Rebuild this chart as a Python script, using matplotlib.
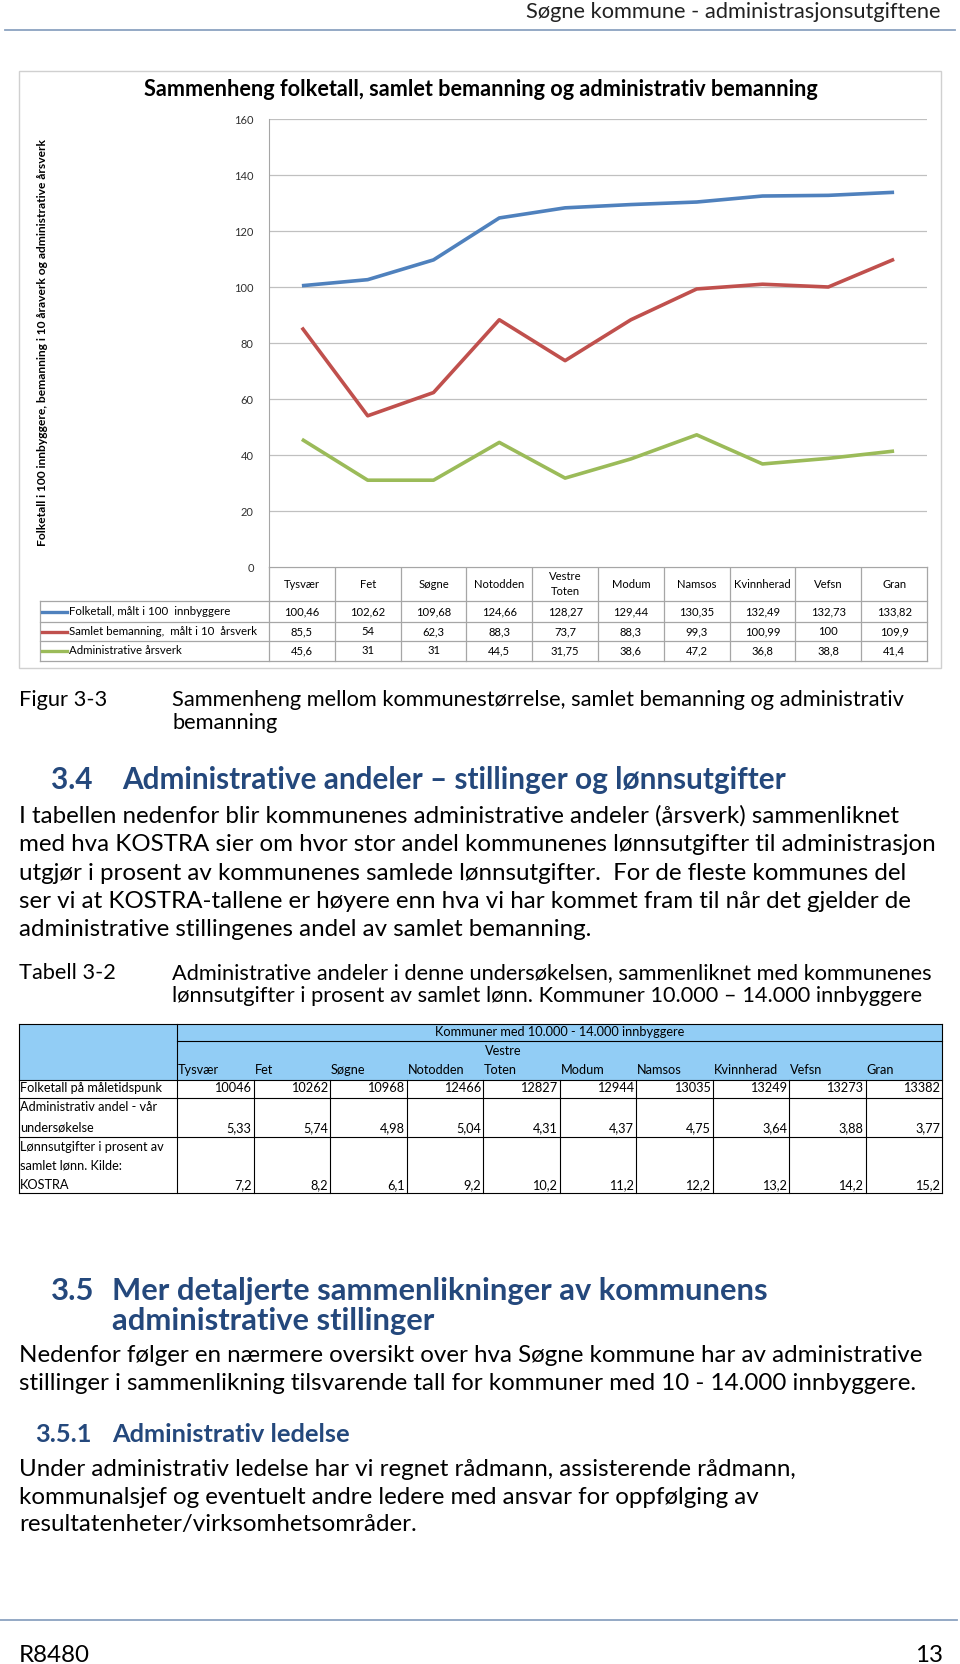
import numpy as np
import matplotlib
matplotlib.use("Agg")
import matplotlib.pyplot as plt
from matplotlib.transforms import blended_transform_factory

# chart data (Figur 3-3)
categories = ['Tysvær', 'Fet', 'Søgne', 'Notodden', 'Vestre\nToten', 'Modum',
              'Namsos', 'Kvinnherad', 'Vefsn', 'Gran']
folketall = [100.46, 102.62, 109.68, 124.66, 128.27, 129.44, 130.35, 132.49, 132.73, 133.82]
samlet = [85.5, 54, 62.3, 88.3, 73.7, 88.3, 99.3, 100.99, 100, 109.9]
admin = [45.6, 31, 31, 44.5, 31.75, 38.6, 47.2, 36.8, 38.8, 41.4]
series_names = ['Folketall, målt i 100  innbyggere', 'Samlet bemanning,  målt i 10  årsverk',
                'Administrative årsverk']
series_colors = ['#4F81BD', '#C0504D', '#9BBB59']

# table data (Tabell 3-2)
tbl_names = ['Tysvær', 'Fet', 'Søgne', 'Notodden', 'Toten', 'Modum',
             'Namsos', 'Kvinnherad', 'Vefsn', 'Gran']
folk_abs = [10046, 10262, 10968, 12466, 12827, 12944, 13035, 13249, 13273, 13382]
adm_andel = [5.33, 5.74, 4.98, 5.04, 4.31, 4.37, 4.75, 3.64, 3.88, 3.77]
lonn_pct = [7.2, 8.2, 6.1, 9.2, 10.2, 11.2, 12.2, 13.2, 14.2, 15.2]

W, H = 960, 1664
fig = plt.figure(figsize=(W / 100, H / 100), dpi=100)
pg = fig.add_axes([0, 0, 1, 1])
pg.set_xlim(0, W)
pg.set_ylim(H, 0)
pg.axis('off')
r = fig.canvas.get_renderer()

BODY = 'Lato'
HEAD = 'Lato'
CHART = 'Lato'
NAVY = '#24487c'


def fit_size(text, width, family, weight='normal'):
    t = pg.text(0, 0, text, fontsize=20, family=family, weight=weight)
    w = t.get_window_extent(renderer=r).width
    t.remove()
    return 20 * width / w


def hline(y, x0, x1, **kw):
    pg.plot([x0, x1], [y, y], **kw)


def vline(x, y0, y1, **kw):
    pg.plot([x, x], [y0, y1], **kw)


# page header / footer
s = fit_size('Søgne kommune - administrasjonsutgiftene', 418, BODY)
pg.text(941, 12, 'Søgne kommune - administrasjonsutgiftene', fontsize=s, family=BODY,
        ha='right', va='center', color='#222222')
hline(30, 5, 955, color='#8ba3c0', lw=1.3)
hline(1620, 0, 957, color='#8ba3c0', lw=1.3)

# ---------------- chart ----------------
pg.add_patch(plt.Rectangle((19, 71), 922, 597, fill=False, ec='#d0d0d0', lw=1))
s = fit_size('Sammenheng folketall, samlet bemanning og administrativ bemanning', 671, CHART, 'bold')
pg.text(481, 90, 'Sammenheng folketall, samlet bemanning og administrativ bemanning',
        fontsize=s, family=CHART, weight='bold', ha='center', va='center')
ylab = 'Folketall i 100 innbyggere, bemanning i 10 åraverk og administrative årsverk'
s = fit_size(ylab, 408, CHART, 'bold')
pg.text(43, 342, ylab, fontsize=s, family=CHART, weight='bold', rotation=90,
        ha='center', va='center')

x0, x1, ytop, ybot = 269, 927, 119, 567
ax = fig.add_axes([x0 / W, 1 - ybot / H, (x1 - x0) / W, (ybot - ytop) / H])
x = np.arange(len(categories))
for vals, c in zip([folketall, samlet, admin], series_colors):
    ax.plot(x, vals, color=c, lw=2.6, solid_capstyle='butt')
ax.set_xlim(-0.5, len(categories) - 0.5)
ax.set_ylim(0, 160)
ax.set_yticks(range(0, 161, 20))
ax.set_xticks([])
ax.yaxis.grid(True, color='#c0c0c0', lw=0.9)
ax.set_axisbelow(True)
for sp in ['top', 'right', 'bottom']:
    ax.spines[sp].set_visible(False)
ax.spines['left'].set_color('#a6a6a6')
ax.tick_params(axis='y', length=0, pad=11, labelsize=8, labelcolor='#303030')
for lb in ax.get_yticklabels():
    lb.set_family(CHART)

# data table under the chart
tr = blended_transform_factory(ax.transData, pg.transData)
edges = np.arange(len(categories) + 1) - 0.5
row_lines = [601, 622, 641, 661]
gray = '#a6a6a6'
hline(ybot, x0, x1, color=gray, lw=0.9)
for yl in row_lines:
    hline(yl, 40, x1, color=gray, lw=0.9)
for e in edges:
    pg.plot([e, e], [ybot, 661], color=gray, lw=0.9, transform=tr)
vline(40, 601, 661, color=gray, lw=0.9)
for i, c in enumerate(categories):
    pg.text(i, 584, c, fontsize=8.1, family=CHART, ha='center', va='center',
            transform=tr, linespacing=1.45)
row_y = [611.5, 631.5, 651]
for vals, name, c, yy in zip([folketall, samlet, admin], series_names, series_colors, row_y):
    hline(yy, 42, 67, color=c, lw=2.4)
    pg.text(69, yy, name, fontsize=8.3, family=CHART, ha='left', va='center')
    for i, v in enumerate(vals):
        pg.text(i, yy, f'{v:g}'.replace('.', ','), fontsize=8.1, family=CHART,
                ha='center', va='center', transform=tr)

# ---------------- text body ----------------
fs = fit_size('Sammenheng mellom kommunestørrelse, samlet bemanning og administrativ', 737, BODY)
pg.text(19, 700, 'Figur 3-3', fontsize=fs, family=BODY, va='center')
pg.text(172, 700, 'Sammenheng mellom kommunestørrelse, samlet bemanning og administrativ',
        fontsize=fs, family=BODY, va='center')
pg.text(172, 723, 'bemanning', fontsize=fs, family=BODY, va='center')

hs = fit_size('Administrative andeler – stillinger og lønnsutgifter', 664, HEAD, 'bold')
pg.text(51, 780, '3.4', fontsize=hs, family=HEAD, weight='bold', color=NAVY, va='center')
pg.text(122, 780, 'Administrative andeler – stillinger og lønnsutgifter', fontsize=hs,
        family=HEAD, weight='bold', color=NAVY, va='center')

para1 = ['I tabellen nedenfor blir kommunenes administrative andeler (årsverk) sammenliknet',
         'med hva KOSTRA sier om hvor stor andel kommunenes lønnsutgifter til administrasjon',
         'utgjør i prosent av kommunenes samlede lønnsutgifter.  For de fleste kommunes del',
         'ser vi at KOSTRA-tallene er høyere enn hva vi har kommet fram til når det gjelder de',
         'administrative stillingenes andel av samlet bemanning.']
bs = fit_size(para1[1], 917, BODY)
for k, line in enumerate(para1):
    pg.text(19, 816 + k * 28.5, line, fontsize=bs, family=BODY, va='center')

cs = fit_size('Administrative andeler i denne undersøkelsen, sammenliknet med kommunenes', 763, BODY)
pg.text(19, 973, 'Tabell 3-2', fontsize=cs, family=BODY, va='center')
pg.text(172, 973, 'Administrative andeler i denne undersøkelsen, sammenliknet med kommunenes',
        fontsize=cs, family=BODY, va='center')
pg.text(172, 996, 'lønnsutgifter i prosent av samlet lønn. Kommuner 10.000 – 14.000 innbyggere',
        fontsize=cs, family=BODY, va='center')

# ---------------- table 3-2 ----------------
tx0, tx1, c0 = 19, 942, 177
cw = (tx1 - c0) / len(tbl_names)
ty0, thead, trows = 1024, 1080, [1098, 1137, 1193]
pg.add_patch(plt.Rectangle((tx0, ty0), tx1 - tx0, thead - ty0, fc='#92cdf5', ec='none'))
k_ = dict(color='black', lw=0.8)
hline(ty0, tx0, tx1, **k_)
hline(1041, c0, tx1, **k_)
hline(thead, tx0, tx1, **k_)
for yl in trows:
    hline(yl, tx0, tx1, **k_)
vline(tx0, ty0, trows[-1], **k_)
vline(tx1, ty0, trows[-1], **k_)
vline(c0, ty0, trows[-1], **k_)
for j in range(1, len(tbl_names)):
    vline(c0 + j * cw, thead, trows[-1], **k_)
ts = 9.2
pg.text((c0 + tx1) / 2, 1032, 'Kommuner med 10.000 - 14.000 innbyggere', fontsize=ts,
        family=CHART, ha='center', va='center')
pg.text(c0 + 4 * cw + 2, 1051, 'Vestre', fontsize=ts, family=CHART, va='center')
for j, n in enumerate(tbl_names):
    pg.text(c0 + j * cw + 1, 1070, n, fontsize=ts, family=CHART, va='center')

row_labels = [['Folketall på måletidspunk'],
              ['Administrativ andel - vår', 'undersøkelse'],
              ['Lønnsutgifter i prosent av', 'samlet lønn. Kilde:', 'KOSTRA']]
row_text_y = [[1088], [1107, 1128], [1147, 1166, 1185]]
row_vals = [[str(v) for v in folk_abs],
            [f'{v:.2f}'.replace('.', ',') for v in adm_andel],
            [f'{v:.1f}'.replace('.', ',') for v in lonn_pct]]
for labels, ys, vals in zip(row_labels, row_text_y, row_vals):
    for lab, yy in zip(labels, ys):
        pg.text(tx0 + 1, yy, lab, fontsize=ts, family=CHART, va='center')
    for j, v in enumerate(vals):
        pg.text(c0 + (j + 1) * cw - 2, ys[-1], v, fontsize=ts, family=CHART,
                ha='right', va='center')

# ---------------- section 3.5 ----------------
hs2 = fit_size('Mer detaljerte sammenlikninger av kommunens', 653, HEAD, 'bold')
pg.text(51, 1291, '3.5', fontsize=hs2, family=HEAD, weight='bold', color=NAVY, va='center')
pg.text(112, 1291, 'Mer detaljerte sammenlikninger av kommunens', fontsize=hs2,
        family=HEAD, weight='bold', color=NAVY, va='center')
pg.text(112, 1321, 'administrative stillinger', fontsize=hs2,
        family=HEAD, weight='bold', color=NAVY, va='center')

para2 = ['Nedenfor følger en nærmere oversikt over hva Søgne kommune har av administrative',
         'stillinger i sammenlikning tilsvarende tall for kommuner med 10 - 14.000 innbyggere.']
for k, line in enumerate(para2):
    pg.text(19, 1356 + k * 28, line, fontsize=bs, family=BODY, va='center')

hs3 = fit_size('Administrativ ledelse', 238, HEAD, 'bold')
pg.text(35, 1434, '3.5.1', fontsize=hs3, family=HEAD, weight='bold', color=NAVY, va='center')
pg.text(112, 1434, 'Administrativ ledelse', fontsize=hs3, family=HEAD, weight='bold',
        color=NAVY, va='center')

para3 = ['Under administrativ ledelse har vi regnet rådmann, assisterende rådmann,',
         'kommunalsjef og eventuelt andre ledere med ansvar for oppfølging av',
         'resultatenheter/virksomhetsområder.']
for k, line in enumerate(para3):
    pg.text(19, 1469 + k * 28, line, fontsize=bs, family=BODY, va='center')

pg.text(19, 1655, 'R8480', fontsize=bs, family=BODY, va='center')
pg.text(943, 1655, '13', fontsize=bs, family=BODY, va='center', ha='right')

fig.savefig('out.png', dpi=100)
